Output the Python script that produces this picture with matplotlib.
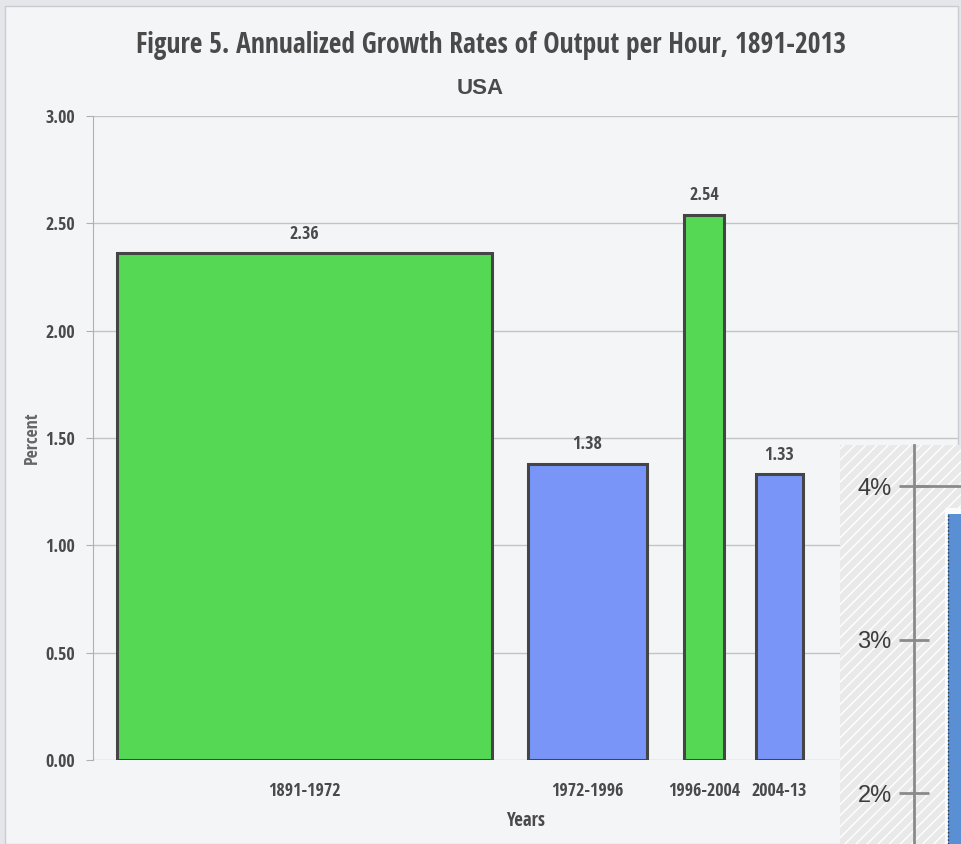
import matplotlib.pyplot as plt
import matplotlib.patches as mpatches

# data
periods = ['1891-1972', '1972-1996', '1996-2004', '2004-13']
growth = [2.36, 1.38, 2.54, 1.33]
bar_colors = ['#55d955', '#7895f7', '#55d955', '#7895f7']
y_ticks = [0.0, 0.5, 1.0, 1.5, 2.0, 2.5, 3.0]

# overlay (piece of another chart in the lower right)
inset_ticks = [2, 3, 4]
inset_labels = ['2%', '3%', '4%']
inset_bar = [3.82]

# layout (pixel-like units along x)
bar_lefts = [24, 435, 591, 663]
bar_widths = [375, 119, 40, 47]

W, H = 962, 844
fig = plt.figure(figsize=(W / 100, H / 100), dpi=100)
fig.patch.set_facecolor('#f4f5f7')

cond = ['Open Sans Condensed', 'DejaVu Sans']
txt = '#4a4a4a'

# outer frame
fig.patches.append(mpatches.Rectangle((0, 0), 1, 1, transform=fig.transFigure,
                                      facecolor='#e4e6ea', edgecolor='none', zorder=-3))
fig.patches.append(mpatches.Rectangle((5 / W, 0), 953 / W, 1 - 6 / H, transform=fig.transFigure,
                                      facecolor='#f4f5f7', edgecolor='#c9ccd2', lw=1, zorder=-2))

ax = fig.add_axes([93 / W, 1 - 760 / H, 865 / W, (760 - 116) / H])
ax.set_facecolor('none')
centers = [l + w / 2 for l, w in zip(bar_lefts, bar_widths)]
ax.bar(bar_lefts, growth, width=bar_widths, align='edge', color=bar_colors,
       edgecolor='#454545', linewidth=2.2, zorder=3)
for c, v in zip(centers, growth):
    ax.text(c, v + 0.05, f'{v:.2f}', ha='center', va='bottom', fontsize=13,
            color=txt, family=cond, fontweight='bold')

ax.set_xlim(0, 865)
ax.set_ylim(0, 3.0)
ax.set_yticks(y_ticks)
ax.set_yticklabels([f'{t:.2f}' for t in y_ticks], family=cond, fontsize=13,
                   color=txt, fontweight='bold')
ax.set_xticks(centers)
ax.set_xticklabels(periods, family=cond, fontsize=13, color=txt, fontweight='bold')
ax.tick_params(axis='x', length=0, pad=16)
ax.tick_params(axis='y', length=5, color='#b0b0b0', pad=8)
ax.grid(axis='y', color='#c4c4c4', linewidth=1)
ax.set_axisbelow(True)
for s in ['top', 'right', 'bottom']:
    ax.spines[s].set_visible(False)
ax.spines['left'].set_color('#b0b0b0')

ax.set_ylabel('Percent', family=cond, fontsize=13, color='#666666', fontweight='bold')
ax.yaxis.set_label_coords(-52 / 865, 0.5)
ax.set_xlabel('Years', family=cond, fontsize=13.5, color=txt, labelpad=8, fontweight='bold')

fig.text(491 / W, 1 - 45 / H, 'Figure 5. Annualized Growth Rates of Output per Hour, 1891-2013',
         ha='center', va='center', fontsize=19.8, fontweight='bold', color=txt, family=cond)
fig.text(480 / W, 1 - 88 / H, 'USA', ha='center', va='center', fontsize=16,
         fontweight='bold', color=txt, family='Liberation Sans')

# overlay piece
fig.patches.append(mpatches.Rectangle((840 / W, 0), 122 / W, 399 / H, transform=fig.transFigure,
                                      facecolor='#e9e9ea', edgecolor='#ffffff', hatch='///',
                                      lw=0, zorder=5))
ax2 = fig.add_axes([914 / W, 0, 48 / W, 399 / H], zorder=6)
ax2.set_facecolor('none')
ax2.set_xlim(0, 48)
ax2.set_ylim(1.67, 4.27)
ax2.bar([31], [inset_bar[0] + 0.04], width=20, align='edge', color='#fbfbfb', zorder=2)
ax2.bar([34], inset_bar, width=20, align='edge', color='#5a8fd3', linewidth=0, zorder=3)
ax2.axvline(34, ymax=(inset_bar[0] - 1.67) / 2.6, color='#333333', lw=1, ls=':', zorder=4)
ax2.hlines(4, 0, 48, color='#8a8a8a', lw=2, zorder=1)
ax2.set_yticks(inset_ticks)
ax2.set_yticklabels(inset_labels, fontsize=17, color='#3c3c3c', family='Liberation Sans')
ax2.tick_params(axis='y', direction='inout', length=22, width=2, color='#8a8a8a', pad=5)
ax2.set_xticks([])
for s in ['top', 'right', 'bottom']:
    ax2.spines[s].set_visible(False)
ax2.spines['left'].set_color('#8a8a8a')
ax2.spines['left'].set_linewidth(2)

fig.savefig('out.png', dpi=100, facecolor=fig.get_facecolor())
